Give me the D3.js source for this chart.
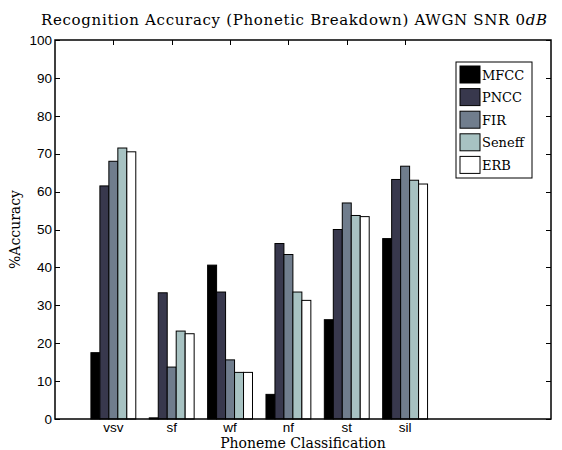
<!DOCTYPE html>
<html>
<head>
<meta charset="utf-8">
<script src="https://cdn.jsdelivr.net/npm/d3@7"></script>
<style>
  body { margin: 0; background: #fff; }
  svg { display: block; }
  .tick-label { font-family: "Liberation Sans", Arial, sans-serif; font-size: 13.5px; fill: #000; }
  .latex { font-family: "DejaVu Serif", serif; fill: #000; }
</style>
</head>
<body>
<div id="chart"></div>
<script>
// phoneme classes and feature types
const categories = ['vsv', 'sf', 'wf', 'nf', 'st', 'sil'];
const seriesNames = ['MFCC', 'PNCC', 'FIR', 'Seneff', 'ERB'];

// % accuracy per class, one array per feature type
const mfcc   = [17.5, 0.3, 40.6, 6.5, 26.2, 47.6];
const pncc   = [61.5, 33.3, 33.5, 46.3, 50.0, 63.2];
const fir    = [68.0, 13.7, 15.6, 43.4, 57.0, 66.7];
const seneff = [71.5, 23.2, 12.3, 33.5, 53.7, 63.0];
const erb    = [70.5, 22.5, 12.3, 31.3, 53.4, 62.0];

const yTicks = [0, 10, 20, 30, 40, 50, 60, 70, 80, 90, 100];

const series = [mfcc, pncc, fir, seneff, erb];
// bone colormap, 5 levels
const colors = ['#000000', '#38384d', '#707d8d', '#a7c2c2', '#ffffff'];

const W = 562, H = 450;
const margin = { top: 40, right: 11, bottom: 31, left: 55 };
const innerW = W - margin.left - margin.right;
const innerH = H - margin.top - margin.bottom;

const svg = d3.select('#chart')
    .append('svg')
    .attr('width', W)
    .attr('height', H);

const g = svg.append('g')
    .attr('transform', `translate(${margin.left}, ${margin.top})`);

// x: category index 1..6 in a [0, 8.5] range like the matlab axes
const xScale = d3.scaleLinear().domain([0, 8.5]).range([0, innerW]);
const yScale = d3.scaleLinear().domain([0, 100]).range([innerH, 0]);

const groupWidth = 0.769;
const barW = groupWidth / series.length;

// ticks (drawn inward, under the bars)
const tickLen = 5;
yTicks.forEach((t) => {
    const y = Math.round(yScale(t)) + 0.5;
    g.append('line').attr('x1', 0).attr('x2', tickLen).attr('y1', y).attr('y2', y)
        .attr('stroke', '#000').attr('stroke-width', 1);
    g.append('line').attr('x1', innerW - tickLen).attr('x2', innerW).attr('y1', y).attr('y2', y)
        .attr('stroke', '#000').attr('stroke-width', 1);
    g.append('text')
        .attr('class', 'tick-label')
        .attr('x', -3)
        .attr('y', yScale(t))
        .attr('dy', '0.35em')
        .attr('text-anchor', 'end')
        .text(t);
});

categories.forEach((c, i) => {
    const x = Math.round(xScale(i + 1)) + 0.5;
    g.append('line').attr('x1', x).attr('x2', x).attr('y1', 0).attr('y2', tickLen)
        .attr('stroke', '#000').attr('stroke-width', 1);
    g.append('line').attr('x1', x).attr('x2', x).attr('y1', innerH - tickLen).attr('y2', innerH)
        .attr('stroke', '#000').attr('stroke-width', 1);
    g.append('text')
        .attr('class', 'tick-label')
        .attr('x', xScale(i + 1))
        .attr('y', innerH + 13)
        .attr('text-anchor', 'middle')
        .text(c);
});

// bars
series.forEach((vals, s) => {
    g.selectAll('.bar-' + s)
        .data(vals)
        .enter()
        .append('rect')
            .attr('class', 'bar-' + s)
            .attr('x', (d, i) => xScale(i + 1 - groupWidth / 2 + s * barW))
            .attr('width', xScale(barW) - xScale(0))
            .attr('y', (d) => yScale(d))
            .attr('height', (d) => yScale(0) - yScale(d))
            .attr('fill', colors[s])
            .attr('stroke', '#000')
            .attr('stroke-width', 1);
});

// axes box
g.append('rect')
    .attr('x', 0).attr('y', 0)
    .attr('width', innerW).attr('height', innerH)
    .attr('fill', 'none')
    .attr('stroke', '#000')
    .attr('stroke-width', 1.5);

// legend
const legend = svg.append('g').attr('transform', 'translate(456, 62)');
legend.append('rect')
    .attr('x', 0).attr('y', 0).attr('width', 76).attr('height', 116)
    .attr('fill', '#fff').attr('stroke', '#000').attr('stroke-width', 1);
seriesNames.forEach((name, s) => {
    const row = legend.append('g').attr('transform', `translate(4, ${4 + s * 22.6})`);
    row.append('rect')
        .attr('x', 0).attr('y', 0).attr('width', 20).attr('height', 17)
        .attr('fill', colors[s]).attr('stroke', '#000').attr('stroke-width', 1);
    row.append('text')
        .attr('class', 'latex')
        .attr('x', 22).attr('y', 13.5)
        .attr('font-size', '13px')
        .text(name);
});

// title and axis labels
const title = svg.append('text')
    .attr('class', 'latex')
    .attr('x', 294)
    .attr('y', 25)
    .attr('text-anchor', 'middle')
    .attr('font-size', '15px')
    .attr('textLength', 506)
    .attr('lengthAdjust', 'spacing');
title.append('tspan').text('Recognition Accuracy (Phonetic Breakdown) AWGN SNR 0');
title.append('tspan').attr('font-style', 'italic').text('dB');

svg.append('text')
    .attr('class', 'latex')
    .attr('transform', `translate(20, ${margin.top + innerH / 2}) rotate(-90)`)
    .attr('text-anchor', 'middle')
    .attr('font-size', '14px')
    .text('%Accuracy');

svg.append('text')
    .attr('class', 'latex')
    .attr('x', margin.left + innerW / 2)
    .attr('y', 448)
    .attr('text-anchor', 'middle')
    .attr('font-size', '14px')
    .text('Phoneme Classification');
</script>
</body>
</html>
